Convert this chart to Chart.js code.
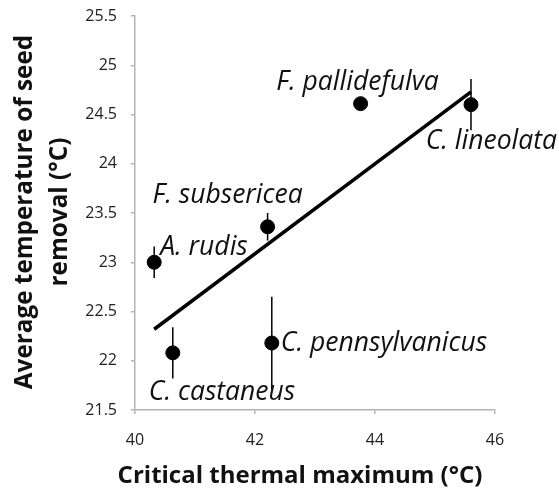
<!DOCTYPE html>
<html>
<head>
<meta charset="utf-8">
<script src="https://cdn.jsdelivr.net/npm/chart.js@4"></script>
<style>
  html, body { margin: 0; padding: 0; background: #fff; }
  #wrap { width: 559px; height: 499px; }
</style>
</head>
<body>
<div id="wrap"><canvas id="scatterChart"></canvas></div>
<script>
// data
const species = ["A. rudis", "F. subsericea", "C. castaneus", "C. pennsylvanicus", "F. pallidefulva", "C. lineolata"];
const ctMax = [40.32, 42.21, 40.63, 42.28, 43.76, 45.6];
const seedTemp = [23.0, 23.36, 22.08, 22.18, 24.61, 24.6];
const seedErr = [0.16, 0.14, 0.26, 0.47, 0.02, 0.26];
const fitX = [40.32, 45.6];
const fitY = [22.32, 24.73];
const xTickValues = [40, 42, 44, 46];
const yTickValues = [21.5, 22, 22.5, 23, 23.5, 24, 24.5, 25, 25.5];
const xTitle = "Critical thermal maximum (°C)";
const yTitle = ["Average temperature of seed", "removal (°C)"];

// where each species name sits relative to its point (px)
const labelPlace = [
  { dx: 6, dy: -15, align: "left" },
  { dx: -40, dy: -31, align: "center" },
  { dx: -24, dy: 40, align: "left" },
  { dx: 9, dy: 0, align: "left" },
  { dx: -3, dy: -21, align: "center" },
  { dx: 86, dy: 37, align: "right" }
];

const errorBars = {
  id: "errorBars",
  afterDatasetsDraw(chart) {
    const { ctx, scales: { x, y } } = chart;
    ctx.save();
    ctx.strokeStyle = "#000";
    ctx.lineWidth = 1.5;
    ctMax.forEach((v, i) => {
      const px = x.getPixelForValue(v);
      ctx.beginPath();
      ctx.moveTo(px, y.getPixelForValue(seedTemp[i] - seedErr[i]));
      ctx.lineTo(px, y.getPixelForValue(seedTemp[i] + seedErr[i]));
      ctx.stroke();
    });
    ctx.restore();
  }
};

const speciesLabels = {
  id: "speciesLabels",
  afterDatasetsDraw(chart) {
    const { ctx, scales: { x, y } } = chart;
    ctx.save();
    ctx.fillStyle = "#111";
    ctx.font = "italic 26.5px 'Open Sans'";
    ctx.textBaseline = "middle";
    species.forEach((name, i) => {
      const p = labelPlace[i];
      ctx.textAlign = p.align;
      ctx.fillText(name, x.getPixelForValue(ctMax[i]) + p.dx, y.getPixelForValue(seedTemp[i]) + p.dy);
    });
    ctx.restore();
  }
};

// axis titles, placed like the original figure (x title sits left of the plot centre)
const axisTitles = {
  id: "axisTitles",
  afterDraw(chart) {
    const { ctx, chartArea } = chart;
    ctx.save();
    ctx.fillStyle = "#111";
    ctx.textAlign = "center";
    ctx.textBaseline = "middle";
    ctx.font = "bold 24px 'Open Sans'";
    ctx.fillText(xTitle, 300, 476);
    ctx.font = "bold 24.3px 'Open Sans'";
    ctx.translate(0, (chartArea.top + chartArea.bottom) / 2 - 1);
    ctx.rotate(-Math.PI / 2);
    ctx.fillText(yTitle[0], 0, 25);
    ctx.fillText(yTitle[1], 0, 60);
    ctx.restore();
  }
};

const ctx = document.getElementById("scatterChart").getContext("2d");
new Chart(ctx, {
  type: "scatter",
  data: {
    datasets: [
      {
        type: "line",
        data: fitX.map((v, i) => ({ x: v, y: fitY[i] })),
        borderColor: "#000",
        borderWidth: 3.5,
        pointRadius: 0,
        fill: false
      },
      {
        data: ctMax.map((v, i) => ({ x: v, y: seedTemp[i] })),
        backgroundColor: "#000",
        borderColor: "#000",
        pointRadius: 7,
        pointHoverRadius: 7
      }
    ]
  },
  options: {
    responsive: true,
    maintainAspectRatio: false,
    animation: false,
    events: [],
    layout: { padding: { left: 0, right: 64, top: 16, bottom: 0 } },
    plugins: {
      legend: { display: false },
      tooltip: { enabled: false }
    },
    scales: {
      x: {
        type: "linear",
        min: 40,
        max: 46,
        afterBuildTicks: s => { s.ticks = xTickValues.map(v => ({ value: v })); },
        afterFit: s => { s.height = 89; s.paddingLeft = 0; s.paddingRight = 0; },
        grid: { drawOnChartArea: false, tickLength: 4, color: "#b4b4b4", lineWidth: 1.5 },
        border: { color: "#b4b4b4", width: 1.5 },
        ticks: { color: "#222", padding: 17, font: { family: "Open Sans", size: 16 }, maxRotation: 0 }
      },
      y: {
        type: "linear",
        min: 21.5,
        max: 25.5,
        afterBuildTicks: s => { s.ticks = yTickValues.map(v => ({ value: v })); },
        afterFit: s => { s.width = 135; s.paddingTop = 0; s.paddingBottom = 0; },
        grid: { drawOnChartArea: false, tickLength: 4, color: "#b4b4b4", lineWidth: 1.5 },
        border: { color: "#b4b4b4", width: 1.5 },
        ticks: { color: "#222", padding: 14, font: { family: "Open Sans", size: 16 }, callback: v => String(v) }
      }
    }
  },
  plugins: [errorBars, speciesLabels, axisTitles]
});
</script>
</body>
</html>
